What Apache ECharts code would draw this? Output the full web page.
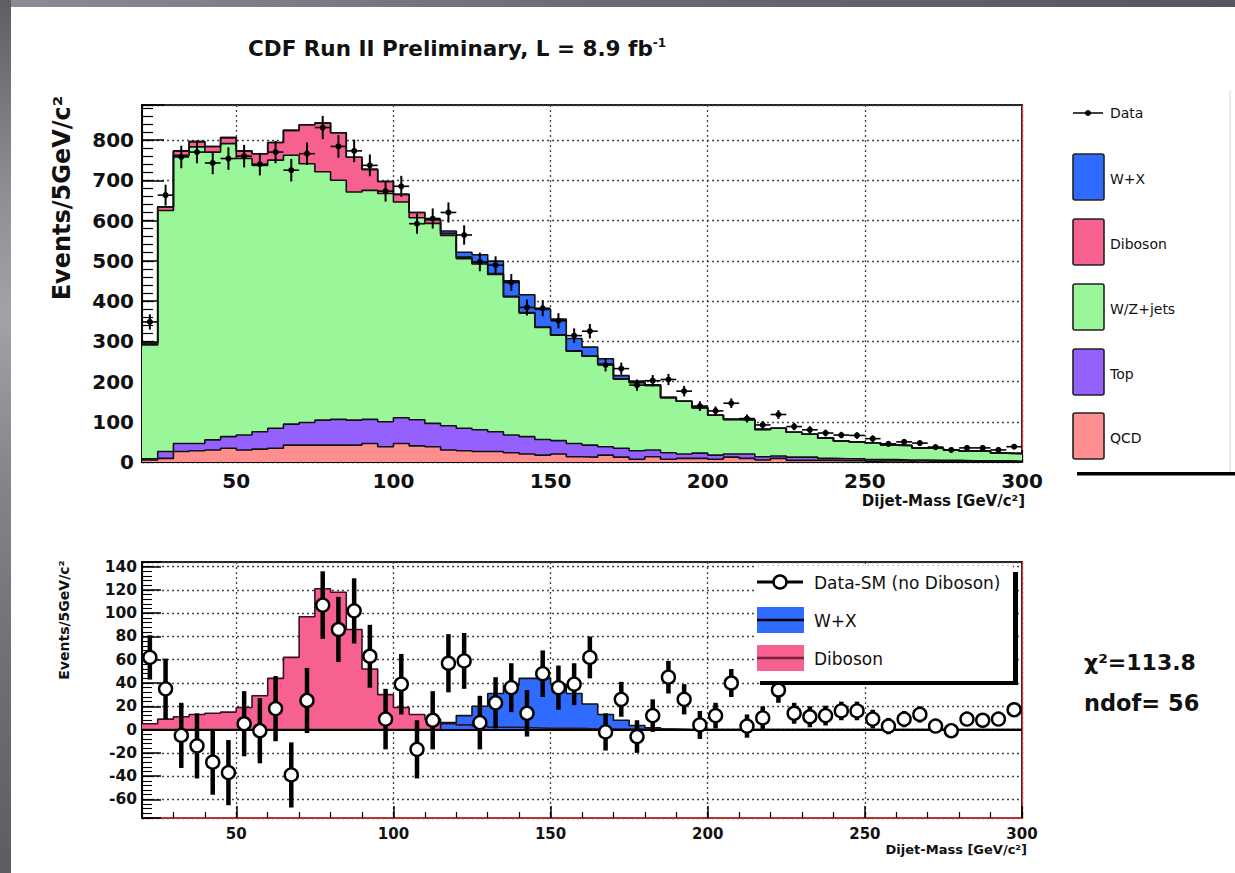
<!DOCTYPE html>
<html>
<head>
<meta charset="utf-8">
<title>CDF Run II Preliminary - Dijet mass</title>
<script src="https://cdn.jsdelivr.net/npm/echarts@6/dist/echarts.min.js"></script>
<style>
  html, body { margin: 0; padding: 0; background: #fff; }
  #chart { position: absolute; left: 0; top: 0; width: 1235px; height: 873px; }
  #frameTop { position: absolute; left: 0; top: 0; width: 1235px; height: 7px;
    background: linear-gradient(90deg, #8c8c92 0%, #6a6a70 50%, #56565c 100%); }
  #frameLeft { position: absolute; left: 0; top: 0; width: 11px; height: 873px;
    background: linear-gradient(180deg, #5e5e64 0%, #8e8e94 22%, #a2a2a8 36%, #84848a 55%, #707076 75%, #5c5c62 100%); }
</style>
</head>
<body>
<div id="chart"></div>
<div id="frameTop"></div>
<div id="frameLeft"></div>
<script>
// Dijet invariant mass, 5 GeV/c^2 bins from 20 to 300 GeV/c^2 (56 bins)
const massMin = 20;
const massMax = 300;
const binWidth = 5;

// Standard Model components (events per bin)
const qcd = [5, 9, 26, 28, 30, 34, 30, 32, 34, 42, 42, 42, 42, 42, 46, 38, 46, 40,
  38, 30, 28, 26, 26, 23, 20, 17, 20, 13, 12, 17, 12, 7, 13, 7, 9,
  9, 7, 12, 9, 5, 9, 4, 4, 4, 3, 4, 2, 3, 2, 3, 1, 2, 1, 1, 2, 1];
const topQuark = [3, 17, 20, 18, 25, 29, 37, 43, 50, 52, 56, 62, 64, 62, 60, 62, 64, 65,
  58, 60, 56, 54, 49, 44, 43, 39, 33, 33, 30, 21, 22, 21, 17, 16, 11,
  13, 10, 8, 11, 8, 6, 8, 8, 5, 5, 4, 4, 3, 3, 2, 3, 2, 2, 2, 1, 1];
const wzJets = [283, 599, 716, 737, 715, 728, 687, 662, 666, 668, 643, 617, 594, 567, 569, 567, 536, 502,
  497, 473, 421, 412, 391, 343, 307, 278, 262, 229, 221, 205, 172, 169, 160, 137, 131,
  113, 99, 86, 85, 68, 69, 62, 57, 51, 44, 42, 42, 36, 36, 30, 30, 26, 24, 24, 19, 19];
const diboson = [5, 9, 11, 13, 14, 15, 19, 29, 44, 62, 97, 121, 118, 86, 52, 30, 19, 13,
  9, 5, 4, 3, 2, 2, 1.5, 1, 1, 1, 0.5, 0.5, 0.5, 0.5, 0.5, 0, 0,
  0, 0, 0, 0, 0, 0, 0, 0, 0, 0, 0, 0, 0, 0, 0, 0, 0, 0, 0, 0, 0];
const wPlusX = [0, 0, 0, 0, 0, 0, 0, 0, 0, 0, 0, 0, 0, 0, 0, 0, 0, 0,
  0, 6, 12, 20, 31, 38, 44, 44, 39, 31, 22, 13, 8, 3.5, 1.5, 0.5, 0,
  0, 0, 0, 0, 0, 0, 0, 0, 0, 0, 0, 0, 0, 0, 0, 0, 0, 0, 0, 0, 0];

// Observed events and statistical uncertainty per bin
const observed = [348, 663, 758, 770, 743, 754, 760, 740, 770, 725, 766, 831, 784, 773, 737, 673, 685, 592,
  605, 620, 564, 497, 489, 446, 384, 382, 351, 314, 325, 241, 232, 191, 202, 205, 176,
  139, 127, 146, 108, 92, 118, 88, 80, 72, 67, 66, 58, 45, 50, 47, 37, 30, 35, 35, 30, 38];
const statErr = [19, 26, 28, 28, 28, 28, 28, 28, 28, 28, 28, 29, 28, 28, 27, 26, 26, 25,
  25, 25, 24, 23, 22, 21, 20, 20, 19, 18, 18, 16, 15, 14, 14, 14, 13,
  12, 11, 12, 10, 10, 11, 9, 9, 8.5, 8, 8, 8, 7, 7, 7, 6, 6, 6, 6, 6, 6];

// Data minus SM backgrounds (without Diboson / W+X)
const residual = [62, 35, -5, -14, -28, -37, 5, -1, 18, -39, 25, 107, 86, 102, 63, 9, 39, -17,
  8, 57, 59, 6, 23, 36, 14, 48, 36, 39, 62, -2, 26, -6, 12, 45, 26,
  4, 12, 40, 3, 10, 34, 14, 11, 12, 16, 16, 9, 3, 9, 13, 3, -1, 9, 8, 9, 17];

const chi2Text = 'χ²=113.8';
const ndofText = 'ndof= 56';

const colors = {
  wx: '#2f6bff',
  diboson: '#f7618f',
  wz: '#99f799',
  top: '#9461ff',
  qcd: '#ff8f8f'
};

const WIDE = '"DejaVu Sans", "Liberation Sans", sans-serif';
const INK = '#111';

const edges = qcd.map((_, i) => massMin + i * binWidth);
const centers = edges.map(e => e + binWidth / 2);

// histogram outline: one point per lower bin edge plus the closing upper edge
function stepPoints(vals) {
  const pts = vals.map((v, i) => [edges[i], v]);
  pts.push([massMax, vals[vals.length - 1]]);
  return pts;
}
function addArrays(a, b) { return a.map((v, i) => v + b[i]); }

// running sums for the stacked histogram (bottom layer first)
const cumQcd = qcd.slice();
const cumTop = addArrays(cumQcd, topQuark);
const cumWz = addArrays(cumTop, wzJets);
const cumDiboson = addArrays(cumWz, diboson);
const cumWx = addArrays(cumDiboson, wPlusX);

const dottedGrid = { show: true, lineStyle: { color: '#444', type: [2, 3], width: 1.3 } };

function majorX(gridIndex, fontSize, margin, lineColor) {
  return {
    type: 'value', gridIndex, position: 'bottom', min: massMin, max: massMax,
    splitNumber: 6, minInterval: 50, maxInterval: 50,
    axisLine: { show: true, onZero: false, lineStyle: { color: lineColor, width: 1.5 } },
    axisTick: { show: true, inside: true, length: 12, lineStyle: { color: '#000', width: 1.5 } },
    axisLabel: {
      show: true, margin, color: INK, fontFamily: WIDE, fontWeight: 'bold', fontSize,
      formatter: v => (v % 50 === 0 && v > massMin) ? String(v) : ''
    },
    splitLine: dottedGrid
  };
}
function minorX(gridIndex, len) {
  return {
    type: 'value', gridIndex, position: 'bottom', min: massMin, max: massMax, interval: 10,
    axisLine: { show: false, onZero: false },
    axisTick: { show: true, inside: true, length: len, lineStyle: { color: '#000', width: 1.2 } },
    axisLabel: { show: false }, splitLine: { show: false }
  };
}
function frameRight(gridIndex, min, max) {
  return {
    type: 'value', gridIndex, position: 'right', min, max,
    axisLine: { show: true, onZero: false, lineStyle: { color: '#e23a3a', width: 1.2 } },
    axisTick: { show: false }, axisLabel: { show: false }, splitLine: { show: false }
  };
}

const option = {
  backgroundColor: '#fff',
  animation: false,
  grid: [
    { left: 142, top: 105, width: 880, height: 357, show: true, backgroundColor: '#fff',
      borderColor: '#222', borderWidth: 2 },
    { left: 142, top: 562, width: 880, height: 256, show: true, backgroundColor: '#fff',
      borderColor: '#222', borderWidth: 2 }
  ],
  xAxis: [
    majorX(0, 20, 9, '#000'),
    minorX(0, 6),
    majorX(1, 15, 8, '#e23a3a'),
    minorX(1, 6)
  ],
  yAxis: [
    {
      type: 'value', gridIndex: 0, position: 'left', min: 0, max: 887, interval: 100,
      axisLine: { show: true, onZero: false, lineStyle: { color: '#000', width: 2 } },
      axisTick: { show: true, inside: true, length: 22, lineStyle: { color: '#000', width: 1.5 } },
      axisLabel: { show: true, margin: 8, color: INK, fontFamily: WIDE, fontWeight: 'bold', fontSize: 20,
        formatter: v => (v % 100 === 0 && v <= 800) ? String(v) : '' },
      splitLine: dottedGrid
    },
    {
      type: 'value', gridIndex: 0, position: 'left', min: 0, max: 887, interval: 20,
      axisLine: { show: false, onZero: false },
      axisTick: { show: true, inside: true, length: 11, lineStyle: { color: '#000', width: 1.2 } },
      axisLabel: { show: false }, splitLine: { show: false }
    },
    frameRight(0, 0, 887),
    {
      type: 'value', gridIndex: 1, position: 'left', min: -76, max: 144,
      splitNumber: 11, minInterval: 20, maxInterval: 20,
      axisLine: { show: true, onZero: false, lineStyle: { color: '#000', width: 2 } },
      axisTick: { show: true, inside: true, length: 19, lineStyle: { color: '#000', width: 1.5 } },
      axisLabel: { show: true, margin: 5, color: INK, fontFamily: WIDE, fontWeight: 'bold', fontSize: 15.5,
        formatter: v => (v % 20 === 0 && v >= -60 && v <= 140) ? String(v) : '' },
      splitLine: dottedGrid
    },
    {
      type: 'value', gridIndex: 1, position: 'left', min: -76, max: 144, interval: 4,
      axisLine: { show: false, onZero: false },
      axisTick: { show: true, inside: true, length: 10, lineStyle: { color: '#000', width: 1.1 } },
      axisLabel: { show: false }, splitLine: { show: false }
    },
    frameRight(1, -76, 144)
  ],
  series: [],
  graphic: []
};

// ---- upper panel: stacked expectation, painted from the full sum downwards ----
const layers = [
  ['W+X', cumWx, colors.wx],
  ['Diboson', cumDiboson, colors.diboson],
  ['W/Z+jets', cumWz, colors.wz],
  ['Top', cumTop, colors.top],
  ['QCD', cumQcd, colors.qcd]
];
layers.forEach(([name, vals, color]) => {
  option.series.push({
    name, type: 'line', xAxisIndex: 0, yAxisIndex: 0, step: 'end',
    data: stepPoints(vals), symbol: 'none', clip: true,
    lineStyle: { color: '#111', width: 1.6 },
    areaStyle: { color, opacity: 1, origin: 'start' }
  });
});

// data points with error crosses
option.series.push({
  name: 'Data', type: 'custom', xAxisIndex: 0, yAxisIndex: 0, clip: true, z: 5,
  data: centers.map((x, i) => [x, observed[i], statErr[i]]),
  encode: { x: 0, y: 1 },
  renderItem: (params, api) => {
    const x = api.value(0), y = api.value(1), e = api.value(2);
    const c = api.coord([x, y]);
    const hi = api.coord([x, y + e]);
    const lo = api.coord([x, y - e]);
    const l = api.coord([x - binWidth / 2, y]);
    const r = api.coord([x + binWidth / 2, y]);
    return { type: 'group', children: [
      { type: 'line', shape: { x1: c[0], y1: hi[1], x2: c[0], y2: lo[1] }, style: { stroke: '#000', lineWidth: 2 } },
      { type: 'line', shape: { x1: l[0], y1: c[1], x2: r[0], y2: c[1] }, style: { stroke: '#000', lineWidth: 1.6 } },
      { type: 'circle', shape: { cx: c[0], cy: c[1], r: 3 }, style: { fill: '#000' } }
    ] };
  }
});

// ---- lower panel: excess over background ----
option.series.push({
  name: 'Diboson (excess)', type: 'line', xAxisIndex: 2, yAxisIndex: 3, step: 'end',
  data: stepPoints(diboson), symbol: 'none', clip: true,
  lineStyle: { color: '#3a1020', width: 1.6 },
  areaStyle: { color: colors.diboson, opacity: 1 },
  markLine: {
    silent: true, symbol: 'none', label: { show: false },
    lineStyle: { color: '#000', width: 2.2, type: 'solid' },
    data: [{ yAxis: 0 }]
  }
});
option.series.push({
  name: 'W+X (excess)', type: 'line', xAxisIndex: 2, yAxisIndex: 3, step: 'end',
  data: stepPoints(wPlusX), symbol: 'none', clip: true,
  lineStyle: { color: '#111', width: 1.6 },
  areaStyle: { color: colors.wx, opacity: 1 }
});
option.series.push({
  name: 'Data-SM (no Diboson)', type: 'custom', xAxisIndex: 2, yAxisIndex: 3, clip: true, z: 5,
  data: centers.map((x, i) => [x, residual[i], statErr[i]]),
  encode: { x: 0, y: 1 },
  renderItem: (params, api) => {
    const x = api.value(0), y = api.value(1), e = api.value(2);
    const c = api.coord([x, y]);
    const hi = api.coord([x, y + e]);
    const lo = api.coord([x, y - e]);
    return { type: 'group', children: [
      { type: 'line', shape: { x1: c[0], y1: hi[1], x2: c[0], y2: lo[1] }, style: { stroke: '#000', lineWidth: 4.5 } },
      { type: 'circle', shape: { cx: c[0], cy: c[1], r: 6.5 }, style: { fill: '#fff', stroke: '#000', lineWidth: 2.4 } }
    ] };
  }
});

// ---- titles, legends and annotations ----
const g = option.graphic;
function txt(text, x, y, size, opts = {}) {
  g.push(Object.assign({
    type: 'text', x, y, z: 100,
    style: Object.assign({
      text, fill: INK, fontFamily: WIDE, fontSize: size,
      fontWeight: opts.bold === false ? 'normal' : 'bold',
      textAlign: opts.align || 'left', textVerticalAlign: 'middle'
    }, opts.style || {})
  }, opts.el || {}));
}

// title
g.push({
  type: 'text', x: 248, y: 48, z: 100,
  style: {
    text: '{m|CDF Run II Preliminary, L = 8.9 fb}{s|-1}',
    textAlign: 'left', textVerticalAlign: 'middle',
    rich: {
      m: { fontFamily: WIDE, fontWeight: 'bold', fontSize: 21.5, fill: INK, verticalAlign: 'bottom' },
      s: { fontFamily: WIDE, fontWeight: 'bold', fontSize: 12, fill: INK, verticalAlign: 'top' }
    }
  }
});

// axis titles
txt('Dijet-Mass [GeV/c²]', 1025, 501, 15, { align: 'right' });
txt('Dijet-Mass [GeV/c²]', 1027, 849, 13, { align: 'right' });
txt('Events/5GeV/c²', 62, 198, 24, { align: 'center', el: { rotation: Math.PI / 2 } });
txt('Events/5GeV/c²', 64, 620, 14, { align: 'center', el: { rotation: Math.PI / 2 } });

// upper legend
g.push({ type: 'line', z: 100, shape: { x1: 1073, y1: 113, x2: 1103, y2: 113 }, style: { stroke: '#000', lineWidth: 1.5 } });
g.push({ type: 'circle', z: 100, shape: { cx: 1088, cy: 113, r: 3 }, style: { fill: '#000' } });
txt('Data', 1110, 113, 14, { bold: false });
const legendRows = [
  ['W+X', colors.wx, 154],
  ['Diboson', colors.diboson, 219],
  ['W/Z+jets', colors.wz, 284],
  ['Top', colors.top, 349],
  ['QCD', colors.qcd, 413]
];
legendRows.forEach(([label, color, y]) => {
  g.push({ type: 'rect', z: 100, shape: { x: 1073, y, width: 31, height: 46, r: 2 },
    style: { fill: color, stroke: '#222', lineWidth: 1.6 } });
  txt(label, 1110, y + 25, 14, { bold: false });
});
g.push({ type: 'line', z: 100, shape: { x1: 1230, y1: 90, x2: 1230, y2: 472 }, style: { stroke: '#d8d8d8', lineWidth: 1 } });
g.push({ type: 'rect', z: 100, shape: { x: 1077, y: 472, width: 158, height: 3.5 }, style: { fill: '#000' } });

// lower legend with shadow
g.push({ type: 'rect', z: 90, shape: { x: 754, y: 566, width: 259, height: 115 }, style: { fill: '#fff' } });
g.push({ type: 'rect', z: 90, shape: { x: 1013, y: 572, width: 5, height: 113 }, style: { fill: '#000' } });
g.push({ type: 'rect', z: 90, shape: { x: 760, y: 681, width: 258, height: 4 }, style: { fill: '#000' } });
g.push({ type: 'line', z: 100, shape: { x1: 757, y1: 582, x2: 803, y2: 582 }, style: { stroke: '#000', lineWidth: 3 } });
g.push({ type: 'circle', z: 100, shape: { cx: 780, cy: 582, r: 6.5 }, style: { fill: '#fff', stroke: '#000', lineWidth: 2.4 } });
txt('Data-SM (no Diboson)', 814, 583, 17, { bold: false });
g.push({ type: 'rect', z: 100, shape: { x: 757, y: 607, width: 47, height: 26 }, style: { fill: colors.wx } });
g.push({ type: 'line', z: 100, shape: { x1: 757, y1: 620, x2: 804, y2: 620 }, style: { stroke: '#000', lineWidth: 2.5 } });
txt('W+X', 814, 621, 17, { bold: false });
g.push({ type: 'rect', z: 100, shape: { x: 757, y: 645, width: 47, height: 26 }, style: { fill: colors.diboson } });
g.push({ type: 'line', z: 100, shape: { x1: 757, y1: 658, x2: 804, y2: 658 }, style: { stroke: '#7a2244', lineWidth: 2.5 } });
txt('Diboson', 814, 659, 17, { bold: false });

// fit quality
txt(chi2Text, 1084, 662, 22);
txt(ndofText, 1084, 703, 22.5);

const chart = echarts.init(document.getElementById('chart'), null, { renderer: 'svg' });
chart.setOption(option);
</script>
</body>
</html>
